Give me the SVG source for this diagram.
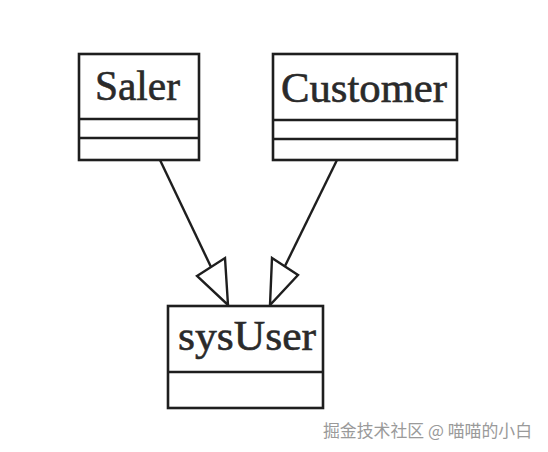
<svg xmlns="http://www.w3.org/2000/svg" width="548" height="452" viewBox="0 0 548 452">
<style>
.box{fill:#fff;stroke:#1e1e1e;stroke-width:2.6}
.sep{stroke:#1e1e1e;stroke-width:2.6}
.lbl{font-family:"Liberation Serif","Times New Roman",serif;font-size:42px;fill:#2a2a2a;stroke:#2a2a2a;stroke-width:0.6}
.edge{stroke:#1e1e1e;stroke-width:2.4;fill:none}
.head{fill:#fff;stroke:#1e1e1e;stroke-width:2.4;stroke-linejoin:miter}
.wm{font-family:"Noto Sans CJK SC","Noto Sans",sans-serif;font-size:17px;fill:#9a9a9a}
</style>
<rect width="548" height="452" fill="#fff"/>
<g id="connectors">
<line class="edge" x1="160" y1="160" x2="211" y2="267"/>
<polygon class="head" points="197,276 225,258 228,305"/>
<line class="edge" x1="337" y1="160" x2="285" y2="266"/>
<polygon class="head" points="272,258 298,275 270,305"/>
</g>
<g id="Saler">
<rect class="box" x="79" y="54" width="120" height="106"/>
<line class="sep" x1="79" y1="119" x2="199" y2="119"/>
<line class="sep" x1="79" y1="138" x2="199" y2="138"/>
<text class="lbl" x="95" y="100" textLength="85" lengthAdjust="spacingAndGlyphs">Saler</text>
</g>
<g id="Customer">
<rect class="box" x="273" y="54" width="184" height="106"/>
<line class="sep" x1="273" y1="120" x2="457" y2="120"/>
<line class="sep" x1="273" y1="139" x2="457" y2="139"/>
<text class="lbl" x="281" y="102" textLength="166" lengthAdjust="spacingAndGlyphs">Customer</text>
</g>
<g id="sysUser">
<rect class="box" x="168" y="306" width="155" height="102"/>
<line class="sep" x1="168" y1="372" x2="323" y2="372"/>
<text class="lbl" x="178" y="350" textLength="138" lengthAdjust="spacingAndGlyphs">sysUser</text>
</g>
<text class="wm" x="323" y="437" textLength="209" lengthAdjust="spacingAndGlyphs">掘金技术社区 @ 喵喵的小白</text>
</svg>
